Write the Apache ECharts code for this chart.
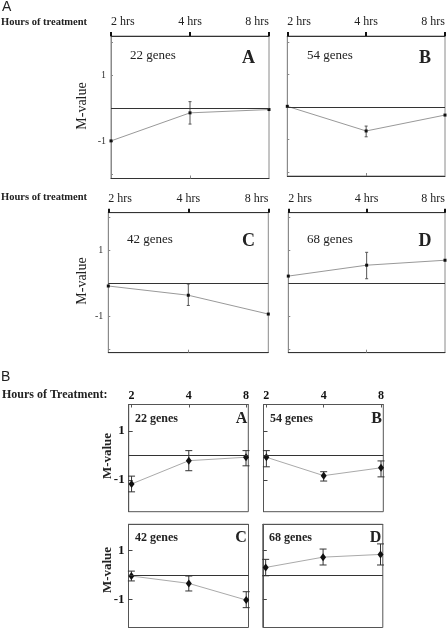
<!DOCTYPE html>
<html>
<head>
<meta charset="utf-8">
<script src="https://cdn.jsdelivr.net/npm/echarts@6/dist/echarts.min.js"></script>
<style>html,body{margin:0;padding:0;background:#fff;}#c{width:448px;height:628px;}</style>
</head>
<body>
<div id="c"></div>
<script>
// ---------- data ----------
const hoursTop = ['2 hrs', '4 hrs', '8 hrs'];
const hoursBottom = ['2', '4', '8'];
const geneLabels = ['22 genes', '54 genes', '42 genes', '68 genes'];
const panelLetters = ['A', 'B', 'C', 'D'];
const yTickLabels = [-1, 1];

// Section A (top figure): mean M-value and error-bar bounds per time point
const topA_mean = [-0.99, -0.14, -0.04];
const topA_low  = [-0.99, -0.48, -0.04];
const topA_high = [-0.99,  0.20, -0.04];
const topB_mean = [ 0.02, -0.74, -0.25];
const topB_low  = [ 0.02, -0.92, -0.25];
const topB_high = [ 0.02, -0.59, -0.25];
const topC_mean = [-0.08, -0.36, -0.93];
const topC_low  = [-0.08, -0.67, -0.93];
const topC_high = [-0.08, -0.02, -0.93];
const topD_mean = [ 0.22,  0.55,  0.70];
const topD_low  = [ 0.22,  0.14,  0.70];
const topD_high = [ 0.22,  0.94,  0.70];

// Section B (bottom figure)
const botA_mean = [-1.16, -0.21, -0.07];
const botA_low  = [-1.48, -0.62, -0.42];
const botA_high = [-0.84,  0.20,  0.20];
const botB_mean = [-0.07, -0.82, -0.50];
const botB_low  = [-0.46, -1.04, -0.87];
const botB_high = [ 0.20, -0.66, -0.22];
const botC_mean = [-0.04, -0.34, -1.02];
const botC_low  = [-0.24, -0.65, -1.33];
const botC_high = [ 0.16, -0.04, -0.68];
const botD_mean = [ 0.31,  0.73,  0.84];
const botD_low  = [-0.03,  0.41,  0.41];
const botD_high = [ 0.64,  1.06,  1.27];

// ---------- layout ----------
const SERIF = 'Liberation Serif';
const panels = [
  {kind:'top', g:{left:111, top:36, width:158, height:142.5}, ymin:-2.13, ymax:2.19, mean:topA_mean, low:topA_low, high:topA_high, ylab:true},
  {kind:'top', g:{left:287.3, top:36, width:158.7, height:140}, ymin:-2.13, ymax:2.19, mean:topB_mean, low:topB_low, high:topB_high, ylab:false},
  {kind:'top', g:{left:108.3, top:212.7, width:160, height:140}, ymin:-2.10, ymax:2.14, mean:topC_mean, low:topC_low, high:topC_high, ylab:true},
  {kind:'top', g:{left:288.3, top:212.7, width:157.7, height:140}, ymin:-2.10, ymax:2.14, mean:topD_mean, low:topD_low, high:topD_high, ylab:false},
  {kind:'bot', g:{left:128.7, top:404.5, width:119.6, height:107.2}, ymin:-2.29, ymax:2.08, mean:botA_mean, low:botA_low, high:botA_high, ylab:true, xlab:true},
  {kind:'bot', g:{left:263.5, top:404.5, width:119.8, height:107.2}, ymin:-2.29, ymax:2.08, mean:botB_mean, low:botB_low, high:botB_high, ylab:false, xlab:true},
  {kind:'bot', g:{left:128.5, top:524.3, width:120, height:103.2}, ymin:-2.14, ymax:2.07, mean:botC_mean, low:botC_low, high:botC_high, ylab:true, xlab:false},
  {kind:'bot', g:{left:262.8, top:524.3, width:120, height:103.2}, ymin:-2.14, ymax:2.07, mean:botD_mean, low:botD_low, high:botD_high, ylab:false, xlab:false}
];

const grid = [], xAxis = [], yAxis = [], series = [];

function errRender(cap, color) {
  return function (params, api) {
    const x = api.value(0), lo = api.value(1), hi = api.value(2);
    if (lo === hi) return null;
    const a = api.coord([x, hi]), b = api.coord([x, lo]);
    const st = {stroke: color, lineWidth: 1};
    return {type: 'group', children: [
      {type: 'line', shape: {x1: a[0], y1: a[1], x2: b[0], y2: b[1]}, style: st},
      {type: 'line', shape: {x1: a[0] - cap, y1: a[1], x2: a[0] + cap, y2: a[1]}, style: st},
      {type: 'line', shape: {x1: b[0] - cap, y1: b[1], x2: b[0] + cap, y2: b[1]}, style: st}
    ]};
  };
}

panels.forEach((p, i) => {
  const top = p.kind === 'top';
  grid.push(Object.assign({show: true, borderColor: top ? '#8a8a8a' : '#555', borderWidth: 1, backgroundColor: 'transparent', containLabel: false}, p.g));
  const xi = xAxis.length;
  if (top) {
    xAxis.push({gridIndex: i, type: 'value', position: 'top', min: 0, max: 2,
      axisLine: {show: true, onZero: false, lineStyle: {color: '#333', width: 1}},
      axisTick: {show: true, customValues: [0, 1, 2], length: 4, inside: false, lineStyle: {color: '#111', width: 2}},
      axisLabel: {show: true, customValues: [0, 1, 2], formatter: v => hoursTop[Math.round(v)], fontFamily: SERIF, fontSize: 12, color: '#222', margin: 8, alignMinLabel: 'left', alignMaxLabel: 'right'},
      splitLine: {show: false}});
    xAxis.push({gridIndex: i, type: 'value', position: 'bottom', min: 0, max: 2,
      axisLine: {show: true, onZero: false, lineStyle: {color: '#333', width: 1}},
      axisTick: {show: true, customValues: [1], length: 3, inside: true, lineStyle: {color: '#888'}},
      axisLabel: {show: false}, splitLine: {show: false}});
  } else {
    xAxis.push({gridIndex: i, type: 'value', position: 'top', min: -0.05, max: 2.04,
      axisLine: {show: true, onZero: false, lineStyle: {color: '#555', width: 1}},
      axisTick: {show: p.xlab, customValues: [0, 1, 2], length: 3, inside: true, lineStyle: {color: '#555'}},
      axisLabel: {show: p.xlab, customValues: [0, 1, 2], formatter: v => hoursBottom[Math.round(v)], fontFamily: SERIF, fontWeight: 'bold', fontSize: 12, color: '#111', margin: 3},
      splitLine: {show: false}});
  }
  yAxis.push({gridIndex: i, type: 'value', min: p.ymin, max: p.ymax,
    axisLine: {show: true, onZero: false, lineStyle: {color: top ? '#8a8a8a' : '#555'}},
    axisTick: {show: true, inside: true, length: top ? 2 : 4, customValues: top ? [-2, -1, 1, 2] : yTickLabels, lineStyle: {color: top ? '#888' : '#444'}},
    axisLabel: {show: p.ylab, customValues: yTickLabels, fontFamily: SERIF, fontSize: top ? 10 : 13, fontWeight: top ? 'normal' : 'bold', color: top ? '#333' : '#111', margin: top ? 5 : 4},
    splitLine: {show: false}});

  series.push({type: 'custom', xAxisIndex: xi, yAxisIndex: i, silent: true, z: 3,
    encode: {x: 0, y: [1, 2]},
    renderItem: errRender(top ? 1.5 : 3.5, top ? '#555' : '#333'),
    data: p.mean.map((m, j) => [j, p.low[j], p.high[j]])});
  series.push({type: 'line', xAxisIndex: xi, yAxisIndex: i, silent: true, z: 4,
    data: p.mean.map((m, j) => [j, m]),
    symbol: top ? 'rect' : 'diamond', symbolSize: top ? 3 : [6, 8], showSymbol: true,
    itemStyle: {color: '#111'},
    lineStyle: {color: top ? '#999' : '#aaa', width: 1},
    markLine: {silent: true, symbol: 'none', label: {show: false},
      lineStyle: {color: '#333', width: 1, type: 'solid'}, data: [{yAxis: 0}]}});
});

function txt(text, x, y, font, opts) {
  opts = opts || {};
  return {type: 'text', x: x, y: y, rotation: opts.rot || 0, silent: true,
    style: {text: text, font: font, fill: opts.fill || '#222',
      align: opts.align || 'left', textAlign: opts.align || 'left',
      verticalAlign: opts.va || 'middle', textVerticalAlign: opts.va || 'middle'}};
}

const graphics = [
  txt('A', 2, 7, '14px "Liberation Sans"'),
  txt('Hours of treatment', 1, 22, 'bold 10.5px "Liberation Serif"'),
  txt('Hours of treatment', 1, 197, 'bold 10.5px "Liberation Serif"'),
  txt('M-value', 82.7, 106, '14px "Liberation Serif"', {rot: Math.PI / 2, align: 'center'}),
  txt('M-value', 82.7, 281, '14px "Liberation Serif"', {rot: Math.PI / 2, align: 'center'}),
  txt(geneLabels[0], 130, 56, '13px "Liberation Serif"'),
  txt(geneLabels[1], 307, 56, '13px "Liberation Serif"'),
  txt(geneLabels[2], 127, 240, '13px "Liberation Serif"'),
  txt(geneLabels[3], 307, 240, '13px "Liberation Serif"'),
  txt(panelLetters[0], 248.5, 58, 'bold 18px "Liberation Serif"', {align: 'center'}),
  txt(panelLetters[1], 425, 58, 'bold 18px "Liberation Serif"', {align: 'center'}),
  txt(panelLetters[2], 248.5, 241, 'bold 18px "Liberation Serif"', {align: 'center'}),
  txt(panelLetters[3], 425, 241, 'bold 18px "Liberation Serif"', {align: 'center'}),

  txt('B', 1, 377, '14px "Liberation Sans"'),
  txt('Hours of Treatment:', 2, 395, 'bold 12px "Liberation Serif"'),
  txt('M-value', 108, 456, 'bold 13px "Liberation Serif"', {rot: Math.PI / 2, align: 'center'}),
  txt('M-value', 108, 570, 'bold 13px "Liberation Serif"', {rot: Math.PI / 2, align: 'center'}),
  txt(geneLabels[0], 135, 418.5, 'bold 12px "Liberation Serif"'),
  txt(geneLabels[1], 270, 418.5, 'bold 12px "Liberation Serif"'),
  txt(geneLabels[2], 135, 538, 'bold 12px "Liberation Serif"'),
  txt(geneLabels[3], 269, 538, 'bold 12px "Liberation Serif"'),
  txt(panelLetters[0], 241.5, 419, 'bold 16px "Liberation Serif"', {align: 'center'}),
  txt(panelLetters[1], 376.5, 419, 'bold 16px "Liberation Serif"', {align: 'center'}),
  txt(panelLetters[2], 241, 538, 'bold 16px "Liberation Serif"', {align: 'center'}),
  txt(panelLetters[3], 375.5, 538, 'bold 16px "Liberation Serif"', {align: 'center'})
];

const chart = echarts.init(document.getElementById('c'), null, {renderer: 'canvas'});
chart.setOption({
  animation: false,
  backgroundColor: '#fff',
  grid: grid, xAxis: xAxis, yAxis: yAxis, series: series,
  graphic: graphics
});
</script>
</body>
</html>
